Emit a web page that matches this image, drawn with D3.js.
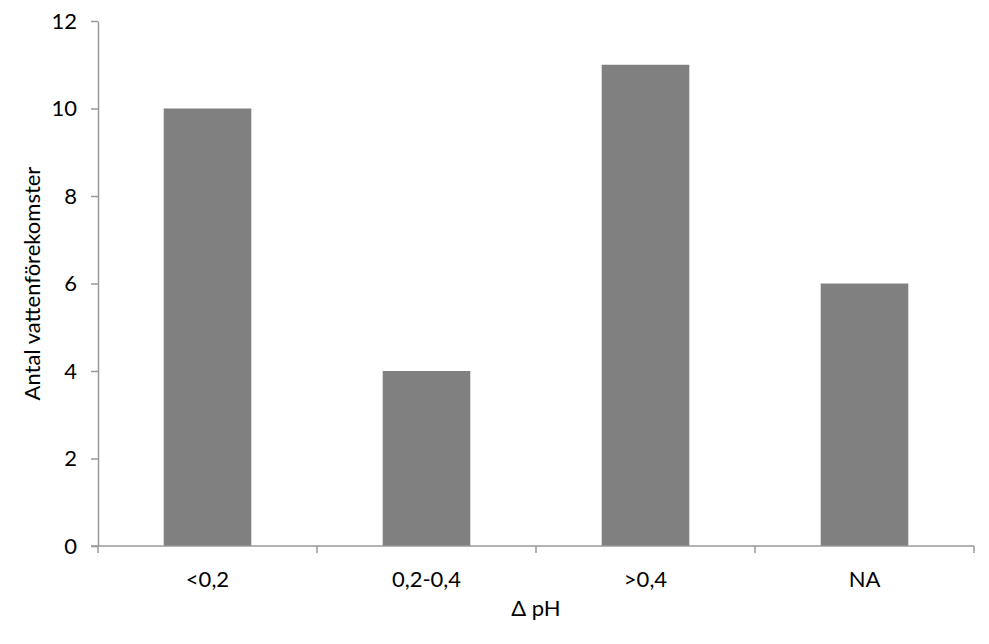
<!DOCTYPE html>
<html><head><meta charset="utf-8">
<script src="https://cdn.jsdelivr.net/npm/d3@7"></script>
<style>body{margin:0;background:#fff}svg{display:block}text{font-family:Lato,"Open Sans",sans-serif;fill:#000}</style>
</head><body>
<script>
const categories = ["<0,2", "0,2-0,4", ">0,4", "NA"];
const values = [10, 4, 11, 6];
const yTicks = [0, 2, 4, 6, 8, 10, 12];
const xTitle = "\u0394 pH";
const yTitle = "Antal vattenförekomster";

const W = 989, H = 644;
const m = {left: 98, right: 15, top: 21, bottom: 98};
const FS = 22;
const svg = d3.select("body").append("svg").attr("width", W).attr("height", H);
const x = d3.scaleBand().domain(categories).range([m.left, W - m.right]).paddingInner(0.6).paddingOuter(0.3);
const xb = d3.scaleBand().domain(categories).range([m.left, W - m.right]);
const y = d3.scaleLinear().domain([0, 12]).range([H - m.bottom, m.top]);

svg.selectAll("rect.bar").data(values).join("rect")
  .attr("x", (d, i) => x(categories[i])).attr("width", x.bandwidth())
  .attr("y", d => y(d)).attr("height", d => y(0) - y(d))
  .attr("fill", "#808080");

// y axis
const ya = svg.append("g").attr("transform", `translate(${m.left},0)`)
  .call(d3.axisLeft(y).tickValues(yTicks).tickSize(7).tickSizeOuter(0).tickPadding(14));
ya.select(".domain").attr("stroke", "#999").attr("stroke-width", 1.5);
ya.selectAll(".tick line").attr("stroke", "#999").attr("stroke-width", 1.5);
ya.selectAll("text").attr("font-size", FS).attr("font-family", "Lato,'Open Sans',sans-serif");

// x axis
const xa = svg.append("g").attr("transform", `translate(0,${y(0)})`);
xa.append("line").attr("x1", m.left - 7).attr("x2", W - m.right).attr("stroke", "#999").attr("stroke-width", 1.5);
const bounds = categories.map(c => xb(c)).concat([xb(categories[categories.length-1]) + xb.bandwidth()]);
xa.selectAll("line.t").data(bounds).join("line").attr("class", "t")
  .attr("x1", d => d).attr("x2", d => d).attr("y1", 0).attr("y2", 7)
  .attr("stroke", "#999").attr("stroke-width", 1.5);
xa.selectAll("text").data(categories).join("text")
  .attr("x", c => xb(c) + xb.bandwidth() / 2).attr("y", 41)
  .attr("text-anchor", "middle").attr("font-size", FS).text(c => c);

svg.append("text").attr("x", (m.left + W - m.right) / 2).attr("y", 616)
  .attr("text-anchor", "middle").attr("font-size", FS).text(xTitle);
svg.append("text").attr("transform", `translate(40,${(m.top + H - m.bottom) / 2}) rotate(-90)`)
  .attr("text-anchor", "middle").attr("font-size", FS).text(yTitle);
</script>
</body></html>
